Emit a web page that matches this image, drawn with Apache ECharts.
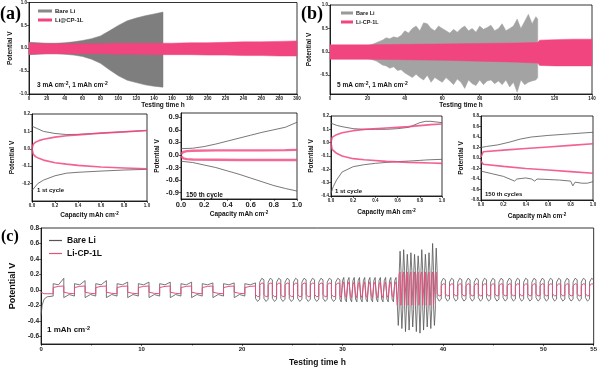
<!DOCTYPE html>
<html><head><meta charset="utf-8">
<script src="https://cdn.jsdelivr.net/npm/echarts@6/dist/echarts.min.js"></script>
<style>html,body{margin:0;padding:0;background:#fff}#c{width:600px;height:370px}</style>
</head><body><div id="c"></div>
<script>
// ---------- (a) 3 mA cm-2, 1 mAh cm-2 : voltage envelopes ----------
const aBareTime = [0,10,20,30,40,50,60,70,80,90,100,110,120,130,140,150];
const aBareUp   = [0.13,0.12,0.11,0.11,0.12,0.14,0.17,0.21,0.27,0.38,0.5,0.6,0.66,0.71,0.75,0.79];
const aBareLo   = [-0.14,-0.13,-0.12,-0.12,-0.13,-0.15,-0.18,-0.24,-0.33,-0.47,-0.6,-0.7,-0.75,-0.8,-0.83,-0.85];
const aPinkTime = [0,20,40,60,80,100,120,140,160,180,200,220,240,260,280,300];
const aPinkUp   = [0.11,0.1,0.1,0.1,0.1,0.11,0.11,0.11,0.11,0.12,0.12,0.13,0.14,0.14,0.15,0.16];
const aPinkLo   = [-0.13,-0.12,-0.12,-0.12,-0.12,-0.13,-0.13,-0.14,-0.14,-0.14,-0.15,-0.15,-0.16,-0.16,-0.17,-0.17];
// ---------- (b) 5 mA cm-2, 1 mAh cm-2 ----------
const bBareTime = [0,5,10,15,20,22,25,28,30,32,34,36,38,40,42,44,46,48,50,52,54,56,58,60,62,64,66,68,70,72,74,76,78,80,82,84,86,88,90,92,94,96,98,100,102,104,106,108,110,111];
const bBareUp   = [0.13,0.13,0.12,0.12,0.13,0.15,0.2,0.25,0.3,0.28,0.32,0.3,0.35,0.45,0.4,0.5,0.55,0.45,0.62,0.6,0.5,0.45,0.55,0.5,0.45,0.4,0.48,0.42,0.5,0.55,0.45,0.5,0.42,0.55,0.48,0.52,0.57,0.45,0.5,0.6,0.45,0.5,0.55,0.7,0.5,0.65,0.8,0.6,0.75,0.7];
const bBareLo   = [-0.14,-0.14,-0.13,-0.13,-0.14,-0.16,-0.2,-0.28,-0.3,-0.35,-0.32,-0.4,-0.38,-0.45,-0.5,-0.55,-0.48,-0.55,-0.6,-0.5,-0.65,-0.55,-0.6,-0.65,-0.55,-0.62,-0.7,-0.58,-0.65,-0.78,-0.6,-0.68,-0.72,-0.6,-0.7,-0.62,-0.6,-0.68,-0.62,-0.7,-0.6,-0.75,-0.65,-0.86,-0.6,-0.7,-0.65,-0.62,-0.6,-0.55];
const bPinkTime = [0,20,40,60,80,100,110,111,112,120,130,140];
const bPinkUp   = [0.15,0.15,0.16,0.17,0.18,0.19,0.2,0.2,0.25,0.26,0.27,0.27];
const bPinkLo   = [-0.16,-0.16,-0.17,-0.18,-0.2,-0.22,-0.24,-0.24,-0.29,-0.3,-0.3,-0.3];
// ---------- small panels: capacity (mAh cm-2) vs potential ----------
const capA1Bare = [0,0.05,0.1,0.2,0.3,0.4,0.6,0.8,1.0];
const a1BareUp  = [0.13,0.115,0.1,0.088,0.082,0.083,0.09,0.098,0.105];
const a1BareLo  = [-0.24,-0.2,-0.18,-0.155,-0.14,-0.135,-0.128,-0.122,-0.118];
const capA1Pink = [0,0.01,0.03,0.06,0.1,0.2,0.3,0.4,0.6,0.8,1.0];
const a1PinkUp  = [0,0.025,0.038,0.047,0.055,0.067,0.075,0.08,0.09,0.097,0.105];
const a1PinkLo  = [0,-0.03,-0.045,-0.055,-0.065,-0.08,-0.088,-0.095,-0.105,-0.11,-0.115];

const capA2 = [0,0.1,0.2,0.3,0.4,0.5,0.6,0.7,0.8,0.9,1.0];
const a2BareUp = [0.15,0.16,0.2,0.26,0.33,0.4,0.47,0.54,0.6,0.66,0.78];
const a2BareLo = [-0.15,-0.18,-0.24,-0.3,-0.38,-0.46,-0.55,-0.64,-0.73,-0.8,-0.86];
const capA2Pink = [0,0.02,0.05,0.1,0.3,0.5,0.7,0.9,1.0];
const a2PinkUp = [0.02,0.07,0.09,0.1,0.11,0.11,0.11,0.115,0.12];
const a2PinkLo = [-0.03,-0.08,-0.1,-0.11,-0.115,-0.12,-0.12,-0.12,-0.12];

const capB1Bare = [0,0.02,0.05,0.1,0.2,0.3,0.4,0.5,0.6,0.7,0.8,0.85,0.9,1.0];
const b1BareUp  = [0.145,0.14,0.13,0.12,0.105,0.1,0.1,0.1,0.105,0.115,0.15,0.16,0.16,0.15];
const b1BareLo  = [-0.38,-0.33,-0.28,-0.22,-0.18,-0.165,-0.155,-0.148,-0.142,-0.138,-0.133,-0.13,-0.128,-0.125];
const capB1Pink = [0,0.01,0.05,0.1,0.2,0.3,0.5,0.7,0.9,1.0];
const b1PinkUp  = [0,0.04,0.06,0.075,0.09,0.1,0.11,0.12,0.135,0.14];
const b1PinkLo  = [0,-0.05,-0.08,-0.1,-0.12,-0.128,-0.14,-0.148,-0.152,-0.155];

const capB2Bare = [0,0.05,0.15,0.25,0.35,0.45,0.6,0.8,1.0];
const b2BareUp  = [0.2,0.22,0.25,0.3,0.36,0.4,0.43,0.46,0.49];
const capB2Lo   = [0,0.1,0.2,0.3,0.32,0.4,0.45,0.48,0.5,0.6,0.7,0.8,0.82,0.84,0.9,0.95,1.0];
const b2BareLo  = [-0.25,-0.3,-0.35,-0.44,-0.4,-0.38,-0.4,-0.44,-0.4,-0.41,-0.42,-0.44,-0.53,-0.46,-0.48,-0.48,-0.45];
const capB2Pink = [0,0.02,0.2,0.4,0.6,0.8,1.0];
const b2PinkUp  = [0.02,0.12,0.15,0.18,0.21,0.24,0.27];
const b2PinkLo  = [-0.06,-0.12,-0.16,-0.2,-0.23,-0.26,-0.29];

// ---------- (c) rate test, 1 mAh cm-2 ----------
const cInitTime = [0,0.1,0.3,0.6,1.2];
const cInitBare = [-0.33,-0.2,-0.12,-0.09,-0.08];
const cInitPink = [-0.03,-0.04,-0.05,-0.05,-0.05];
const cBlockStart  = [1.2,21.34,29.74,35.46,39.42];
const cBlockHalf   = [1.06,0.42,0.26,0.18,0.41];
const cBlockHalves = [19,20,22,22,38];
const cBarePos = [[0.08,0.065,0.1],[0.1,0.15,0.13],[0.12,0.16,0.14],[0.2,0.5,0.25],[0.1,0.15,0.13]];
const cBareNeg = [[-0.1,-0.06,-0.08],[-0.11,-0.15,-0.12],[-0.12,-0.155,-0.14],[-0.2,-0.5,-0.25],[-0.1,-0.145,-0.12]];
const cPinkPos = [[0.03,0.045,0.05],[0.06,0.09,0.08],[0.07,0.1,0.09],[0.2,0.23,0.22],[0.05,0.08,0.07]];
const cPinkNeg = [[-0.03,-0.045,-0.05],[-0.06,-0.09,-0.08],[-0.07,-0.1,-0.09],[-0.2,-0.22,-0.21],[-0.05,-0.08,-0.07]];
const cBlock1Peaks    = [0.15,0.12,0.12,0.1,0.1,0.1,0.1,0.09,0.09,0.09];
const cBlock4PosPeaks = [0.5,0.52,0.46,0.48,0.46,0.44,0.52,0.46,0.48,0.6,0.54];
const cBlock4NegPeaks = [-0.46,-0.5,-0.54,-0.52,-0.48,-0.54,-0.56,-0.52,-0.48,-0.5,-0.46];

const GRAY = '#555555', PINK = '#f0457f', PINKC = '#e3517f';
const FONT = 'Liberation Sans';

function zip(x, y) { return x.map((v, i) => [v, y[i]]); }
function buildC(initVals, posTpl, negTpl, isBare) {
  const pts = zip(cInitTime, initVals);
  for (let b = 0; b < cBlockStart.length; b++) {
    let sign = b === 0 ? 1 : -1, pi = 0, ni = 0;
    const h = cBlockHalf[b];
    for (let k = 0; k < cBlockHalves[b]; k++) {
      const t0 = cBlockStart[b] + k * h;
      const v = (sign > 0 ? posTpl[b] : negTpl[b]).slice();
      if (isBare && b === 0 && sign > 0) v[2] = cBlock1Peaks[pi];
      if (isBare && b === 3) v[1] = sign > 0 ? cBlock4PosPeaks[pi] : cBlock4NegPeaks[ni];
      pts.push([t0, v[0]], [t0 + h / 2, v[1]], [t0 + h, v[2]]);
      if (sign > 0) pi++; else ni++;
      sign = -sign;
    }
  }
  return pts;
}
// envelope band: custom series, one polygon drawn through the axis scales
function band(name, gi, time, up, lo, color, z) {
  return {
    type: 'custom', name: name, xAxisIndex: gi, yAxisIndex: gi, z: z,
    itemStyle: { color: color },
    data: time.map((t, i) => [t, lo[i], up[i]]),
    encode: { x: 0, y: [1, 2] },
    renderItem: function (params, api) {
      if (params.dataIndex !== 0) return null;
      const pts = [];
      for (let i = 0; i < time.length; i++) pts.push(api.coord([time[i], up[i]]));
      for (let i = time.length - 1; i >= 0; i--) pts.push(api.coord([time[i], lo[i]]));
      return { type: 'polygon', shape: { points: pts }, style: { fill: color, stroke: color, lineWidth: 0.5 } };
    }
  };
}
function line(name, gi, x, y, color, w, z, op) {
  return { type: 'line', name: name, xAxisIndex: gi, yAxisIndex: gi, symbol: 'none', smooth: false,
    lineStyle: { width: w, color: color, opacity: op == null ? 1 : op }, itemStyle: { color: color }, data: zip(x, y), z: z };
}
const supRich = { s: { fontSize: 5, fontWeight: 'bold', fontFamily: FONT, padding: [0, 0, 4, 0] } };
function xAx(gi, min, max, interval, name, fs, nameGap, nfs, fmt) {
  return { gridIndex: gi, type: 'value', min, max, interval, name, nameLocation: 'middle', nameGap,
    nameTextStyle: { fontSize: nfs, fontWeight: 'bold', fontFamily: FONT, color: '#111', rich: { s: { fontSize: nfs * 0.7, fontWeight: 'bold', fontFamily: FONT, padding: [0, 0, nfs * 0.6, 0] } } },
    axisLine: { show: true, onZero: false, lineStyle: { color: '#000', width: 0.8 } },
    axisTick: { show: true, length: 2, lineStyle: { color: '#000', width: 0.6 } },
    axisLabel: { fontSize: fs, fontWeight: 'bold', fontFamily: FONT, color: '#222', margin: 2, formatter: fmt },
    splitLine: { show: false } };
}
function yAx(gi, min, max, interval, name, fs, nameGap, nfs, custom, fmt) {
  const o = { gridIndex: gi, type: 'value', min, max, interval, name, nameLocation: 'middle', nameGap,
    nameTextStyle: { fontSize: nfs, fontWeight: 'bold', fontFamily: FONT, color: '#111' },
    axisLine: { show: true, onZero: false, lineStyle: { color: '#000', width: 0.8 } },
    axisTick: { show: true, length: 2, lineStyle: { color: '#000', width: 0.6 } },
    axisLabel: { fontSize: fs, fontWeight: 'bold', fontFamily: FONT, color: '#222', margin: 2, formatter: fmt },
    splitLine: { show: false } };
  if (custom) { o.axisLabel.customValues = custom; o.axisTick.customValues = custom; }
  return o;
}
const f1 = v => v.toFixed(1);
const f0 = v => String(Math.round(v));
const gridBox = { show: true, borderColor: '#000', borderWidth: 0.8, backgroundColor: 'transparent' };

const chart = echarts.init(document.getElementById('c'), null, { renderer: 'canvas' });
const option = {
  animation: false,
  backgroundColor: '#fff',
  grid: [
    Object.assign({ left: 29, top: 2, width: 268, height: 92 }, gridBox),
    Object.assign({ left: 330, top: 5, width: 262, height: 89 }, gridBox),
    Object.assign({ left: 32, top: 114, width: 115, height: 87 }, gridBox),
    Object.assign({ left: 181, top: 113, width: 116, height: 86 }, gridBox),
    Object.assign({ left: 331, top: 116, width: 111, height: 80 }, gridBox),
    Object.assign({ left: 481, top: 116, width: 112, height: 84 }, gridBox),
    Object.assign({ left: 37, top: 228, width: 561, height: 116 }, gridBox)
  ],
  xAxis: [
    xAx(0, 0, 300, 20, 'Testing time h', 4.5, 8, 6.5, f0),
    xAx(1, 0, 140, 20, 'Testing time h', 4.5, 8, 6.5, f0),
    xAx(2, 0, 1, 0.2, 'Capacity mAh cm{s|-2}', 4.5, 10, 6.5, f1),
    xAx(3, 0, 1, 0.2, 'Capacity mAh cm{s|-2}', 7.5, 8, 6.5, f1),
    xAx(4, 0, 1, 0.2, 'Capacity mAh cm{s|-2}', 4.5, 12, 6.5, f1),
    xAx(5, 0, 1, 0.2, 'Capacity mAh cm{s|-2}', 4.5, 12, 6.5, f1),
    Object.assign(xAx(6, 0, 55, 10, 'Testing time h', 6, 14, 8.5, f0), { minorTick: { show: true, splitNumber: 2, length: 1.5, lineStyle: { color: '#000', width: 0.6 } } })
  ],
  yAxis: [
    yAx(0, -1, 1, 0.5, 'Potential V', 4.5, 15, 6.5, null, f1),
    yAx(1, -0.9, 1.0, 0.1, 'Potential V', 4.5, 17, 6.5, [-0.5, 0, 0.5, 1.0], f1),
    yAx(2, -0.3, 0.2, 0.1, 'Potential V', 4.5, 16, 6.5, [-0.2, -0.1, 0, 0.1, 0.2], f1),
    yAx(3, -1.05, 1.0, 0.05, 'Potential V', 7.5, 20, 6.5, [-0.9, -0.6, -0.3, 0, 0.3, 0.6, 0.9], f1),
    yAx(4, -0.4, 0.2, 0.1, 'Potential V', 4.5, 16, 6.5, null, f1),
    yAx(5, -0.8, 0.8, 0.2, 'Potential V', 4.5, 16, 6.5, null, f1),
    yAx(6, -0.7, 0.8, 0.1, 'Potential V', 6.5, 20, 9, [-0.6, -0.4, -0.2, 0, 0.2, 0.4, 0.6, 0.8], f1)
  ],
  legend: [
    { left: 33, top: 3, orient: 'vertical', itemWidth: 14, itemHeight: 3, itemGap: 3, icon: 'rect',
      textStyle: { fontSize: 6, fontWeight: 'bold', fontFamily: FONT, color: '#222', padding: [0, 0, 0, -2] },
      data: [{ name: 'Bare Li', itemStyle: { color: '#888' } }, { name: 'Li@CP-1L', itemStyle: { color: PINK } }] },
    { left: 336, top: 5, orient: 'vertical', itemWidth: 12, itemHeight: 3, itemGap: 3, icon: 'rect',
      textStyle: { fontSize: 5.5, fontWeight: 'bold', fontFamily: FONT, color: '#222', padding: [0, 0, 0, -2] },
      data: [{ name: 'Bare Li', itemStyle: { color: '#999' } }, { name: 'Li-CP-1L', itemStyle: { color: PINK } }] },
    { left: 44, top: 231, orient: 'vertical', itemWidth: 13, itemHeight: 1.2, itemGap: 4, icon: 'rect',
      textStyle: { fontSize: 8.5, fontWeight: 'bold', fontFamily: FONT, color: '#111' },
      data: [{ name: 'Bare Li', itemStyle: { color: GRAY } }, { name: 'Li-CP-1L', itemStyle: { color: PINKC } }] }
  ],
  series: [
    band('Bare Li', 0, aBareTime, aBareUp, aBareLo, '#7e7e7e', 2),
    band('Li@CP-1L', 0, aPinkTime, aPinkUp, aPinkLo, PINK, 3),
    band('Bare Li', 1, bBareTime, bBareUp, bBareLo, '#a3a3a3', 2),
    band('Li-CP-1L', 1, bPinkTime, bPinkUp, bPinkLo, PINK, 3),
    line('Bare Li', 2, capA1Bare, a1BareUp, GRAY, 0.8, 2),
    line('Bare Li', 2, capA1Bare, a1BareLo, GRAY, 0.8, 2),
    line('Li@CP-1L', 2, capA1Pink, a1PinkUp, PINK, 1.6, 3, 0.85),
    line('Li@CP-1L', 2, capA1Pink, a1PinkLo, PINK, 1.6, 3, 0.85),
    line('Bare Li', 3, capA2, a2BareUp, GRAY, 0.8, 2),
    line('Bare Li', 3, capA2, a2BareLo, GRAY, 0.8, 2),
    line('Li@CP-1L', 3, capA2Pink, a2PinkUp, PINK, 2.4, 3, 0.8),
    line('Li@CP-1L', 3, capA2Pink, a2PinkLo, PINK, 2.4, 3, 0.8),
    line('Bare Li', 4, capB1Bare, b1BareUp, GRAY, 0.8, 2),
    line('Bare Li', 4, capB1Bare, b1BareLo, GRAY, 0.8, 2),
    line('Li-CP-1L', 4, capB1Pink, b1PinkUp, PINK, 1.6, 3, 0.85),
    line('Li-CP-1L', 4, capB1Pink, b1PinkLo, PINK, 1.6, 3, 0.85),
    line('Bare Li', 5, capB2Bare, b2BareUp, GRAY, 0.8, 2),
    line('Bare Li', 5, capB2Lo, b2BareLo, GRAY, 0.8, 2),
    line('Li-CP-1L', 5, capB2Pink, b2PinkUp, PINK, 1.6, 3, 0.85),
    line('Li-CP-1L', 5, capB2Pink, b2PinkLo, PINK, 1.6, 3, 0.85),
    { type: 'line', name: 'Bare Li', xAxisIndex: 6, yAxisIndex: 6, symbol: 'none', lineStyle: { width: 0.8, color: GRAY }, itemStyle: { color: GRAY },
      data: buildC(cInitBare, cBarePos, cBareNeg, true), z: 2 },
    { type: 'line', name: 'Li-CP-1L', xAxisIndex: 6, yAxisIndex: 6, symbol: 'none', lineStyle: { width: 1, color: PINKC }, itemStyle: { color: PINKC },
      data: buildC(cInitPink, cPinkPos, cPinkNeg, false), z: 3 }
  ],
  graphic: [
    { type: 'text', left: 0, top: 5, style: { text: '(a)', font: 'bold 18px "Liberation Serif"', fill: '#000' } },
    { type: 'text', left: 301, top: 5, style: { text: '(b)', font: 'bold 18px "Liberation Serif"', fill: '#000' } },
    { type: 'text', left: 1, top: 229, style: { text: '(c)', font: 'bold 16px "Liberation Serif"', fill: '#000' } },
    { type: 'text', left: 37, top: 81, style: { text: '3 mA cm{s|-2}, 1 mAh cm{s|-2}', font: 'bold 6.5px "Liberation Sans"', fill: '#111', rich: supRich } },
    { type: 'text', left: 337, top: 81, style: { text: '5 mA cm{s|-2}, 1 mAh cm{s|-2}', font: 'bold 6.5px "Liberation Sans"', fill: '#111', rich: supRich } },
    { type: 'text', left: 37, top: 187, style: { text: '1 st cycle', font: 'bold 6px "Liberation Sans"', fill: '#111' } },
    { type: 'text', left: 186, top: 192, style: { text: '150 th cycle', font: 'bold 6.5px "Liberation Sans"', fill: '#111' } },
    { type: 'text', left: 335, top: 188, style: { text: '1 st cycle', font: 'bold 6px "Liberation Sans"', fill: '#111' } },
    { type: 'text', left: 485, top: 191, style: { text: '150 th cycles', font: 'bold 6px "Liberation Sans"', fill: '#111' } },
    { type: 'text', left: 47, top: 325, style: { text: '1 mAh cm{s|-2}', font: 'bold 8px "Liberation Sans"', fill: '#111', rich: { s: { fontSize: 5.5, fontWeight: 'bold', fontFamily: FONT, padding: [0, 0, 4, 0] } } } }
  ]
};
chart.setOption(option);
</script>
</body></html>
